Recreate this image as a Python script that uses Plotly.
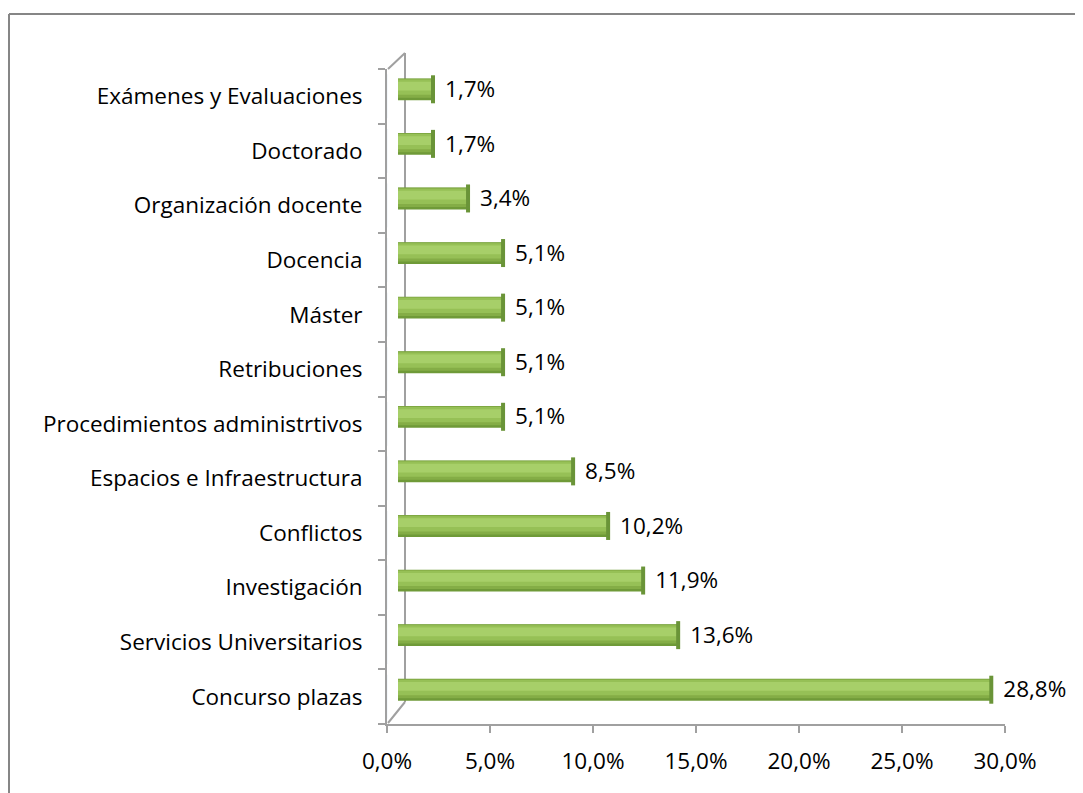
import plotly.graph_objects as go

categories = ["Concurso plazas", "Servicios Universitarios", "Investigación", "Conflictos",
              "Espacios e Infraestructura", "Procedimientos administrtivos", "Retribuciones",
              "Máster", "Docencia", "Organización docente", "Doctorado", "Exámenes y Evaluaciones"]
values = [0.288, 0.136, 0.119, 0.102, 0.085, 0.051, 0.051, 0.051, 0.051, 0.034, 0.017, 0.017]
x_ticks = [0, 0.05, 0.10, 0.15, 0.20, 0.25, 0.30]

W, H = 1083, 793
OFF = 8  # page margin compensation
def px(x): return (x - OFF) / W
def py(y): return 1 - (y - OFF) / H

FONT = "Open Sans"
FS = 22.5
AX = "#a0a0a0"

fig = go.Figure()

# cylinder-like bars: layered bars on a slightly offset (3D depth) axis pair
layers = [(0.40, "#6f9a38", 0.0), (0.35, "#84ad46", 0.02), (0.28, "#96c056", 0.04), (0.16, "#a7cf69", 0.06)]
for w, c, off in layers:
    fig.add_trace(go.Bar(
        x=values, y=categories, orientation="h", width=w,
        offset=-w / 2 + off,
        marker=dict(color=c, line=dict(width=0)),
        xaxis="x2", yaxis="y2", hoverinfo="skip", showlegend=False))

# end caps
fig.add_trace(go.Scatter(
    x=values, y=categories, mode="markers", xaxis="x2", yaxis="y2",
    marker=dict(symbol="line-ns", size=20, line=dict(color="#6a9438", width=4)),
    hoverinfo="skip", showlegend=False, cliponaxis=False))

# data labels
fig.add_trace(go.Scatter(
    x=values, y=categories, mode="text", xaxis="x3", yaxis="y3",
    text=[f"{v*100:.1f}%".replace(".", ",") for v in values],
    textposition="middle right", cliponaxis=False,
    textfont=dict(family=FONT, size=FS, color="#000000"),
    hoverinfo="skip", showlegend=False))

# invisible trace on main axes so category axis is populated
fig.add_trace(go.Bar(x=[0]*len(categories), y=categories, orientation="h",
                     marker=dict(color="rgba(0,0,0,0)"), hoverinfo="skip", showlegend=False))

common_y = dict(type="category", categoryorder="array", categoryarray=categories, range=[-0.5, 11.5])

fig.update_layout(
    width=W, height=H, margin=dict(l=0, r=0, t=0, b=0, pad=0, autoexpand=False),
    paper_bgcolor="white", plot_bgcolor="rgba(0,0,0,0)",
    barmode="overlay", separators=",.",
    font=dict(family=FONT, size=FS, color="#000000"),
    xaxis=dict(domain=[px(387), px(1005)], range=[0, 0.30], tickvals=x_ticks, tickformat=".1%",
               showgrid=False, zeroline=False, showline=True, linecolor=AX, linewidth=2,
               ticks="outside", ticklen=7, tickcolor=AX, tickwidth=2, automargin=False,
               ticklabelstandoff=9, anchor="y"),
    yaxis=dict(domain=[py(724), py(69)], **common_y, showgrid=False, zeroline=False,
               showline=True, linecolor=AX, linewidth=2, ticks="outside", ticklen=7, automargin=False,
               tickcolor=AX, tickwidth=2, tickson="boundaries", ticklabelstandoff=18, anchor="x"),
    xaxis2=dict(domain=[px(398), px(1016)], range=[0, 0.30], visible=False, anchor="y2", automargin=False),
    yaxis2=dict(domain=[py(717), py(62)], **common_y, visible=False, anchor="x2", automargin=False),
    xaxis3=dict(domain=[px(410), px(1028)], range=[0, 0.30], visible=False, anchor="y3", automargin=False),
    yaxis3=dict(domain=[py(719), py(64)], **common_y, visible=False, anchor="x3", automargin=False),
    shapes=[
        # chart border (only top/left edges fall inside the picture)
        dict(type="line", xref="paper", yref="paper", x0=px(9), x1=1, y0=py(14), y1=py(14),
             line=dict(color="#868686", width=2), layer="below"),
        dict(type="line", xref="paper", yref="paper", x0=px(9), x1=px(9), y0=0, y1=py(14),
             line=dict(color="#868686", width=2), layer="below"),
        # 3D back wall
        dict(type="line", xref="paper", yref="paper", x0=px(405), x1=px(405), y0=py(53), y1=py(702),
             line=dict(color=AX, width=2), layer="below"),
        dict(type="line", xref="paper", yref="paper", x0=px(388), x1=px(405), y0=py(69), y1=py(53),
             line=dict(color=AX, width=2), layer="below"),
        dict(type="line", xref="paper", yref="paper", x0=px(388), x1=px(405), y0=py(723), y1=py(702),
             line=dict(color=AX, width=2), layer="below"),
    ],
)

fig.write_html("out.html")
